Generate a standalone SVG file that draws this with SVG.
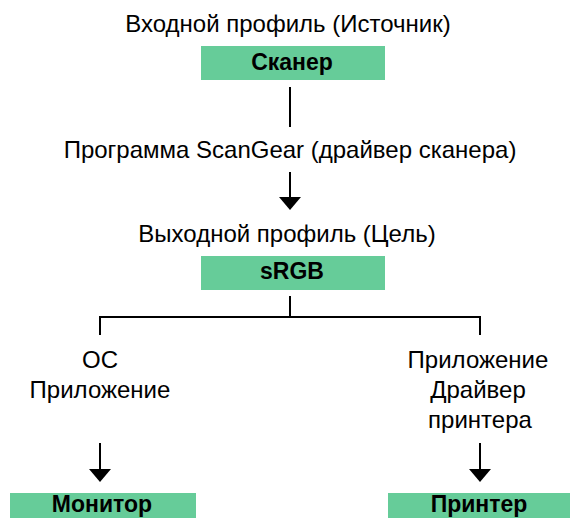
<svg xmlns="http://www.w3.org/2000/svg" width="570" height="518" viewBox="0 0 570 518">
<style>
  .lbl { font-family: "Liberation Sans", Arial, sans-serif; font-size: 24px; fill: #000; text-anchor: middle; }
  .box { fill: #66CC99; }
  .btxt { font-family: "Liberation Sans", Arial, sans-serif; font-size: 23px; font-weight: bold; fill: #000; text-anchor: middle; }
  .conn { stroke: #000; stroke-width: 2; fill: none; }
</style>
<defs>
  <marker id="arrow" markerUnits="userSpaceOnUse" markerWidth="13" markerHeight="22" viewBox="0 0 13 22" refX="0" refY="11" orient="auto">
    <path d="M0,0 L13,11 L0,22 z" fill="#000"/>
  </marker>
</defs>
<g id="connectors">
  <line class="conn" x1="290" y1="87" x2="290" y2="127"/>
  <line class="conn" x1="290" y1="172" x2="290" y2="197" marker-end="url(#arrow)"/>
  <path class="conn" d="M290,296 V317"/>
  <path class="conn" d="M100,335 V317 H480 V335"/>
  <line class="conn" x1="100" y1="443" x2="100" y2="469" marker-end="url(#arrow)"/>
  <line class="conn" x1="480" y1="443" x2="480" y2="469" marker-end="url(#arrow)"/>
</g>
<g id="input-profile">
  <text class="lbl" x="288" y="32">Входной профиль (Источник)</text>
</g>
<g id="scanner">
  <rect class="box" x="201" y="46" width="184" height="34"/>
  <text class="btxt" x="292" y="70">Сканер</text>
</g>
<g id="scangear">
  <text class="lbl" x="290" y="158">Программа ScanGear (драйвер сканера)</text>
</g>
<g id="output-profile">
  <text class="lbl" x="287" y="242">Выходной профиль (Цель)</text>
</g>
<g id="srgb">
  <rect class="box" x="201" y="256" width="184" height="34"/>
  <text class="btxt" x="292" y="279">sRGB</text>
</g>
<g id="os-app">
  <text class="lbl" x="100" y="368">ОС</text>
  <text class="lbl" x="100" y="398">Приложение</text>
</g>
<g id="app-driver">
  <text class="lbl" x="478" y="368">Приложение</text>
  <text class="lbl" x="478" y="398">Драйвер</text>
  <text class="lbl" x="480" y="428">принтера</text>
</g>
<g id="monitor">
  <rect class="box" x="10" y="493" width="186" height="30"/>
  <text class="btxt" x="102" y="512">Монитор</text>
</g>
<g id="printer">
  <rect class="box" x="388" y="493" width="185" height="30"/>
  <text class="btxt" x="479" y="512">Принтер</text>
</g>
</svg>
